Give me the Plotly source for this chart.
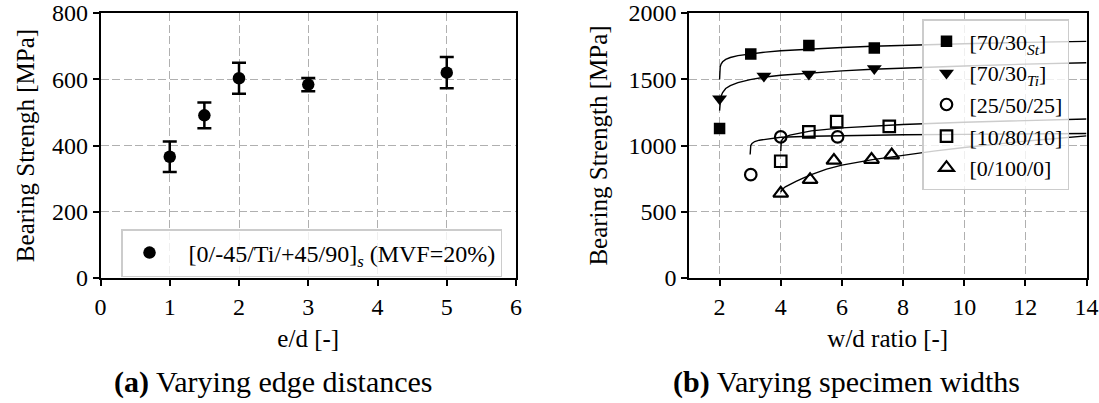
import plotly.graph_objects as go

# ---------------- data: (a) varying edge distances ----------------
ed_ratio = [1, 1.5, 2, 3, 5]
ed_strength = [366, 491, 603, 584, 620]
ed_error = [46, 39, 47, 20, 47]
ed_label = "&nbsp;&nbsp;[0/-45/Ti/+45/90]<sub><i>s</i></sub> (MVF=20%)"

# ---------------- data: (b) varying specimen widths ----------------
st_x = [2, 3.02, 4.92, 7.06]
st_y = [1128, 1690, 1755, 1735]
ti_x = [2, 3.45, 4.92, 7.06]
ti_y = [1353, 1524, 1539, 1582]
c25_x = [3.02, 4, 5.86]
c25_y = [780, 1065, 1065]
c10_x = [4, 4.92, 5.83, 7.55]
c10_y = [881, 1103, 1180, 1144]
c0_x = [4, 4.96, 5.74, 6.97, 7.63]
c0_y = [639, 742, 887, 894, 927]

# fitted trend curves
st_fit_x = [2, 2.005, 2.02, 2.05, 2.1, 2.2, 2.35, 2.6, 3, 3.5, 4, 5, 6, 7, 8, 10, 12, 14]
st_fit_y = [1498, 1560, 1592, 1615, 1632, 1650, 1664, 1678, 1692, 1705, 1715, 1729, 1740, 1749, 1756, 1768, 1778, 1786]
ti_fit_x = [2, 2.01, 2.04, 2.1, 2.2, 2.35, 2.6, 3, 3.5, 4, 5, 6, 7, 8, 10, 12, 14]
ti_fit_y = [1263, 1330, 1368, 1400, 1430, 1452, 1474, 1497, 1517, 1530, 1549, 1563, 1575, 1584, 1600, 1614, 1625]
c25_fit_x = [3, 3.005, 3.02, 3.06, 3.15, 3.3, 3.6, 4, 5, 6, 8, 10, 12, 14]
c25_fit_y = [932, 975, 1000, 1015, 1030, 1040, 1051, 1062, 1070, 1075, 1081, 1084, 1087, 1090]
c10_fit_x = [4, 4.005, 4.02, 4.06, 4.15, 4.3, 4.6, 5, 6, 7, 8, 10, 12, 14]
c10_fit_y = [958, 1005, 1030, 1050, 1065, 1078, 1093, 1110, 1133, 1147, 1159, 1176, 1188, 1200]
c0_fit_x = [4, 4.05, 4.15, 4.3, 4.5, 4.75, 5, 5.5, 6, 7, 8, 9, 10, 11, 12, 13, 14]
c0_fit_y = [647, 668, 688, 708, 730, 755, 780, 822, 852, 893, 928, 958, 985, 1010, 1033, 1053, 1073]

series_b = [
    ("[70/30<sub><i>St</i></sub>]", st_x, st_y, st_fit_x, st_fit_y, "square"),
    ("[70/30<sub><i>Ti</i></sub>]", ti_x, ti_y, ti_fit_x, ti_fit_y, "triangle-down"),
    ("[25/50/25]", c25_x, c25_y, c25_fit_x, c25_fit_y, "circle-open"),
    ("[10/80/10]", c10_x, c10_y, c10_fit_x, c10_fit_y, "square-open"),
    ("[0/100/0]", c0_x, c0_y, c0_fit_x, c0_fit_y, "triangle-up-open"),
]

FONT = "Liberation Serif"
W, H = 1099, 403

fig = go.Figure()

# (a)
fig.add_trace(go.Scatter(
    x=ed_ratio, y=ed_strength, mode="markers", name=ed_label,
    marker=dict(symbol="circle", size=12.5, color="black"),
    error_y=dict(type="data", array=ed_error, color="black", thickness=2.5, width=7),
    xaxis="x", yaxis="y", legend="legend",
))

# (b) fits first (behind markers)
for name, x, y, fx, fy, sym in series_b:
    fig.add_trace(go.Scatter(
        x=fx, y=fy, mode="lines", line=dict(color="black", width=1.4),
        showlegend=False, hoverinfo="skip", xaxis="x2", yaxis="y2",
    ))
for name, x, y, fx, fy, sym in series_b:
    is_open = sym.endswith("open")
    fig.add_trace(go.Scatter(
        x=x, y=y, mode="markers", name=name,
        marker=dict(symbol=sym, size=13 if "triangle" in sym else 11.5,
                    color="black", line=dict(color="black", width=2.2 if is_open else 0)),
        xaxis="x2", yaxis="y2", legend="legend2",
    ))

axis_common = dict(
    showline=True, linecolor="black", linewidth=1.6, mirror=True,
    ticks="outside", ticklen=6, tickwidth=1.5, tickcolor="black",
    showgrid=True, gridcolor="#b0b0b0", griddash="8px,3.5px", gridwidth=1.3,
    zeroline=False, tickfont=dict(family=FONT, size=24, color="black"),
    title_font=dict(family=FONT, size=25, color="black"),
    ticklabeloverflow="allow",
)


def px(v):
    return v / W


def py(v):
    return 1 - v / H


fig.update_layout(
    width=W, height=H,
    margin=dict(l=0, r=0, t=0, b=0, autoexpand=False),
    paper_bgcolor="white", plot_bgcolor="white",
    font=dict(family=FONT, size=24, color="black"),
    xaxis=dict(axis_common, domain=[px(100.5), px(516)], range=[0, 6], dtick=1,
               title=dict(text="e/d [-]", standoff=11), anchor="y"),
    yaxis=dict(axis_common, domain=[py(278), py(13)], range=[0, 800], dtick=200,
               title=dict(text="Bearing Strengh [MPa]", standoff=10), anchor="x"),
    xaxis2=dict(axis_common, domain=[px(689), px(1086.5)], range=[1, 14],
                tickvals=[2, 4, 6, 8, 10, 12, 14],
                title=dict(text="w/d ratio [-]", standoff=11), anchor="y2"),
    yaxis2=dict(axis_common, domain=[py(278), py(13)], range=[0, 2000], dtick=500,
                title=dict(text="Bearing Strength [MPa]", standoff=14), anchor="x2"),
    legend=dict(x=px(121), y=py(229), xanchor="left", yanchor="top",
                bgcolor="rgba(255,255,255,0.8)", bordercolor="#cccccc", borderwidth=1.5,
                font=dict(family=FONT, size=24, color="black"),
                itemwidth=44, tracegroupgap=0),
    legend2=dict(x=px(922), y=py(19), xanchor="left", yanchor="top",
                 bgcolor="rgba(255,255,255,0.8)", bordercolor="#cccccc", borderwidth=1.5,
                 font=dict(family=FONT, size=22, color="black"),
                 itemwidth=36, tracegroupgap=0),
    annotations=[
        dict(text="<b>(a)</b> Varying edge distances", x=px(273), y=py(382),
             xref="paper", yref="paper", showarrow=False, xanchor="center", yanchor="middle",
             font=dict(family=FONT, size=30, color="black")),
        dict(text="<b>(b)</b> Varying specimen widths", x=px(846), y=py(382),
             xref="paper", yref="paper", showarrow=False, xanchor="center", yanchor="middle",
             font=dict(family=FONT, size=30, color="black")),
    ],
)

# remove the default 8 px page margin so the figure fills the window exactly
fig.write_html("out.html", config={"displayModeBar": False},
               post_script="document.body.style.margin='0px';")
